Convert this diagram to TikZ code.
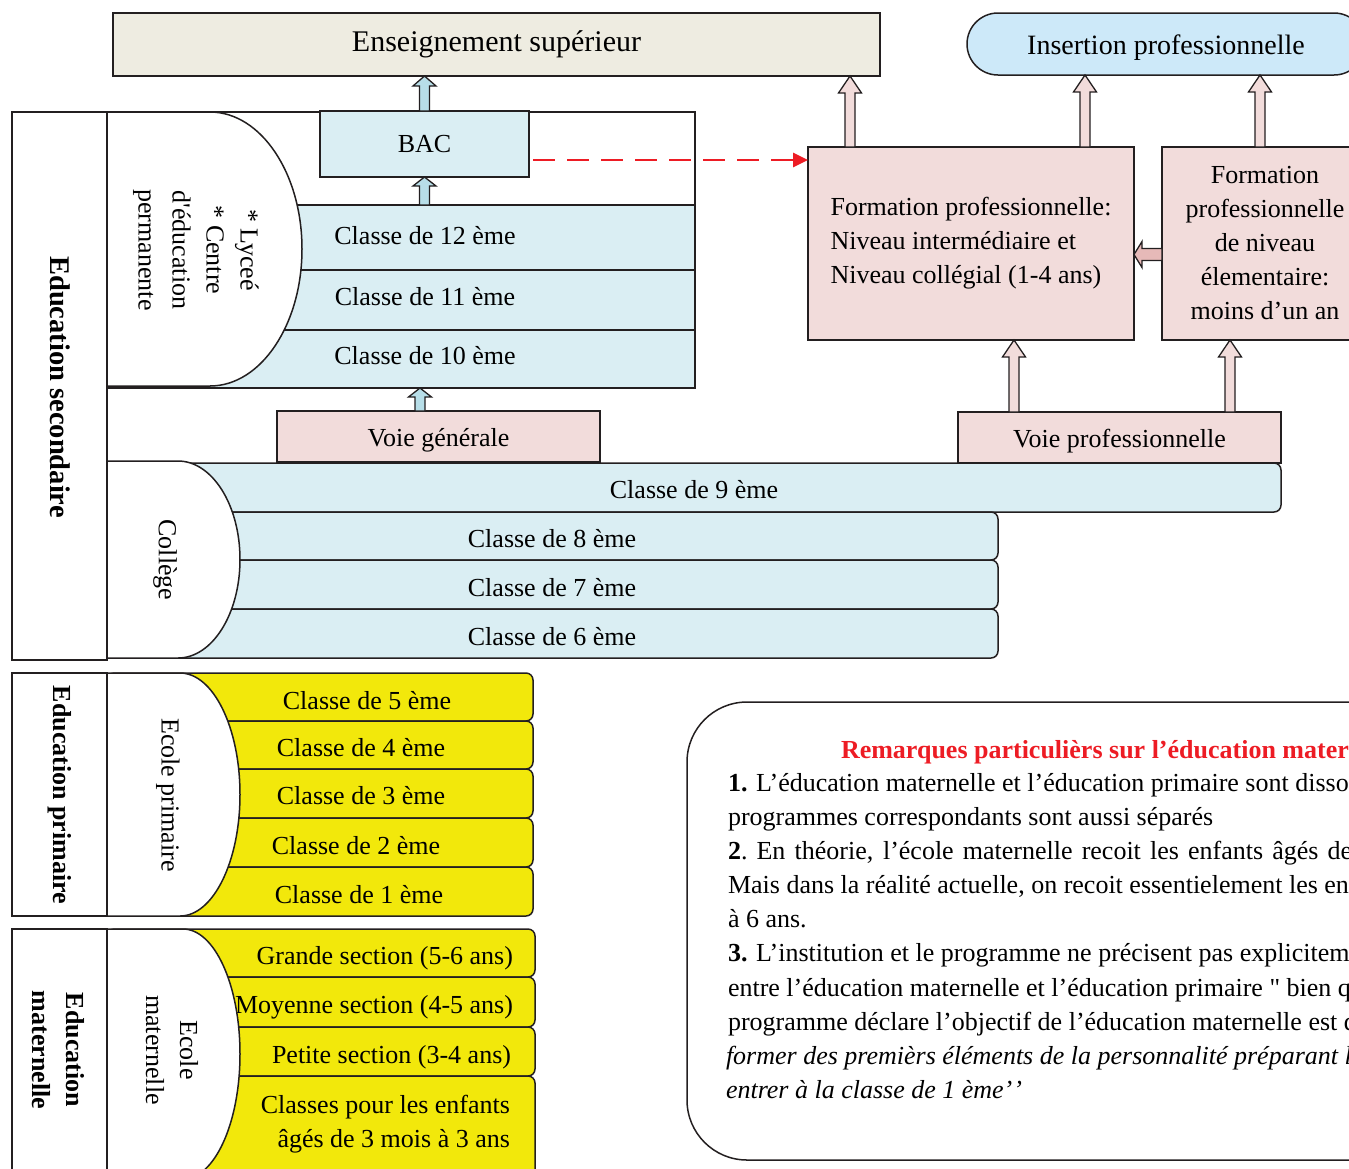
\documentclass[tikz,border=0pt]{standalone}
\usepackage{fontspec}
\setmainfont{Liberation Serif}
\usetikzlibrary{calc,arrows.meta}
\definecolor{edge}{HTML}{231F20}
\definecolor{beige}{HTML}{EEECE1}
\definecolor{lblue}{HTML}{DAEEF3}
\definecolor{insblue}{HTML}{CDE9F9}
\definecolor{pinkf}{HTML}{F2DCDB}
\definecolor{pinkdark}{HTML}{E6B9B8}
\definecolor{yel}{HTML}{F2E80B}
\definecolor{arrblue}{HTML}{B7DEE8}
\definecolor{redd}{HTML}{ED1C24}
% vertical block arrow: fill, head length, from (bottom), to (top, y only)
\newcommand{\blkv}[4]{\draw[blockarr,fill=#1] let \p1=(#3), \p2=(#4) in
  (\x1-5pt,\y1) -- (\x1-5pt,\y2-#2) -- (\x1-11.5pt,\y2-#2) -- (\x1,\y2)
  -- (\x1+11.5pt,\y2-#2) -- (\x1+5pt,\y2-#2) -- (\x1+5pt,\y1) -- cycle;}
\newcommand{\lowr}[2]{\raisebox{-#1}[\height][\depth]{#2}}
\begin{document}
\begin{tikzpicture}[x=1pt,y=-1pt,
  box/.style={draw=edge,line width=1.5pt,inner sep=0pt,outer sep=0pt,align=center,font=\fontsize{26}{34}\selectfont},
  rowb/.style={box,fill=lblue},
  rowy/.style={box,fill=yel,rounded corners=7pt},
  rowc/.style={box,fill=lblue,rounded corners=7pt},
  txt/.style={inner sep=0pt,outer sep=0pt,font=\fontsize{26}{34}\selectfont,align=center},
  btxt/.style={inner sep=0pt,outer sep=0pt,font=\fontsize{26}{34}\selectfont\bfseries,align=center},
  rtxt/.style={inner sep=0pt,outer sep=0pt,font=\fontsize{26}{34}\selectfont,anchor=base west},
  wshape/.style={draw=edge,line width=1.5pt,fill=white},
  blockarr/.style={draw=edge,line width=1.3pt,line join=miter},
]
\useasboundingbox (0,0) rectangle (1349,1168);
\clip (0,0) rectangle (1349,1168);

% top boxes
\node[box,fill=beige,minimum width=767,minimum height=63,font=\fontsize{30}{36}\selectfont] (ens) at (496.5,44.5) {Enseignement supérieur};
\node[box,fill=insblue,rounded corners=31pt,minimum width=398,minimum height=62,font=\fontsize{28}{34}\selectfont] (ins) at (1166,44) {\lowr{4pt}{Insertion professionnelle}};

% secondary: lycee
\node[box,fill=white,minimum width=588,minimum height=276] (lycf) at (401,250) {};
\node[rowb,minimum width=588,minimum height=65] (c12) at (401,237.5) {};
\node[rowb,minimum width=588,minimum height=60] (c11) at (401,300) {};
\node[rowb,minimum width=588,minimum height=58] (c10) at (401,359) {};
\node[txt] (t12) at (425,236) {Classe de 12 ème};
\node[txt] (t11) at (425,297) {Classe de 11 ème};
\node[txt] (t10) at (425,356) {Classe de 10 ème};
\draw[wshape] (107,112) -- (210,112) arc[start angle=90,end angle=-90,x radius=92pt,y radius=137pt] -- (107,386) -- cycle;
\node[txt,rotate=-90] (lyclab) at (196,250) {* Lyceé\\* Centre\\d\textquotesingle éducation\\permanente};

\node[box,fill=lblue,minimum width=209,minimum height=66] (bac) at (424.5,144) {BAC};
\node[box,fill=pinkf,minimum width=323,minimum height=51] (vg) at (438.5,436.5) {\lowr{3.5pt}{Voie générale}};
\node[box,fill=pinkf,minimum width=323,minimum height=51] (vp) at (1119.5,437.5) {\lowr{4pt}{Voie professionnelle}};
\node[box,fill=pinkf,minimum width=326,minimum height=193,align=left] (fp) at (971,243.5) {Formation professionnelle:\\Niveau intermédiaire et\\Niveau collégial (1-4 ans)};
\node[box,fill=pinkf,minimum width=206,minimum height=193] (fe) at (1265,243.5) {Formation\\professionnelle\\de niveau\\élementaire:\\moins d’un an};

% college
\node[rowc,minimum width=1174,minimum height=49] (c9) at (694,487.5) {};
\node[rowc,minimum width=891,minimum height=48] (c8) at (552.5,536) {};
\node[rowc,minimum width=891,minimum height=49] (c7) at (552.5,584.5) {};
\node[rowc,minimum width=891,minimum height=49] (c6) at (552.5,633.5) {};
\node[txt] (t9) at (694,490) {Classe de 9 ème};
\node[txt] (t8) at (552,539) {Classe de 8 ème};
\node[txt] (t7) at (552,588) {Classe de 7 ème};
\node[txt] (t6) at (552,637) {Classe de 6 ème};
\draw[wshape] (107,461) -- (178,461) arc[start angle=90,end angle=-90,x radius=62pt,y radius=98.5pt] -- (107,658) -- cycle;
\node[txt,rotate=-90] (col) at (165,560) {Collège};

\node[box,minimum width=95,minimum height=548] (es) at (59.5,386) {};
\node[btxt,rotate=-90,font=\fontsize{28.5}{34}\selectfont\bfseries] (est) at (60,387) {Education secondaire};

% primary
\node[rowy,minimum width=426,minimum height=48] (p5) at (320,697) {};
\node[rowy,minimum width=426,minimum height=48] (p4) at (320,745) {};
\node[rowy,minimum width=426,minimum height=49] (p3) at (320,793.5) {};
\node[rowy,minimum width=426,minimum height=49] (p2) at (320,842.5) {};
\node[rowy,minimum width=426,minimum height=49] (p1) at (320,891.5) {};
\node[txt] (tp5) at (367,701) {Classe de 5 ème};
\node[txt] (tp4) at (361,748) {Classe de 4 ème};
\node[txt] (tp3) at (361,796) {Classe de 3 ème};
\node[txt] (tp2) at (356,846) {Classe de 2 ème};
\node[txt] (tp1) at (359,895) {Classe de 1 ème};
\draw[wshape] (107,673) -- (180,673) arc[start angle=90,end angle=-90,x radius=60pt,y radius=121.5pt] -- (107,916) -- cycle;
\node[txt,rotate=-90] (ecp) at (168,795) {Ecole primaire};
\node[box,minimum width=95,minimum height=243] (ep) at (59.5,794.5) {};
\node[btxt,rotate=-90] (ept) at (60,795) {Education primaire};

% maternelle
\node[rowy,minimum width=428,minimum height=48] (m1) at (321,953) {};
\node[rowy,minimum width=428,minimum height=50] (m2) at (321,1002) {};
\node[rowy,minimum width=428,minimum height=49] (m3) at (321,1051.5) {};
\node[rowy,minimum width=428,minimum height=104] (m4) at (321,1128) {};
\node[txt,anchor=east] (tm1) at (513,958) {Grande section (5-6 ans)};
\node[txt,anchor=east] (tm2) at (513,1007) {Moyenne section (4-5 ans)};
\node[txt,anchor=east] (tm3) at (511,1057) {Petite section (3-4 ans)};
\node[txt,anchor=east,align=right] (tm4) at (510,1124.5) {Classes pour les enfants\\âgés de 3 mois à 3 ans};
\draw[wshape] (107,929) -- (183,929) arc[start angle=90,end angle=-90,x radius=57pt,y radius=125pt] -- (107,1179) -- cycle;
\node[txt,rotate=-90] (ecm) at (172,1050) {Ecole\\maternelle};
\node[box,minimum width=95,minimum height=246] (em) at (59.5,1052) {};
\node[btxt,rotate=-90] (emt) at (58,1050) {Education\\maternelle};

% arrows
\blkv{arrblue}{10pt}{bac.north}{ens.south}
\blkv{arrblue}{9pt}{bac.south |- c12.north}{bac.south}
\blkv{arrblue}{9pt}{$(vg.north west)+(143,0)$}{c10.south}
\blkv{pinkf}{17pt}{$(fp.north west)+(42,0)$}{ens.south}
\blkv{pinkf}{17pt}{$(fp.north west)+(277,0)$}{ins.south}
\blkv{pinkf}{17pt}{$(fe.north west)+(98,0)$}{ins.south}
\blkv{pinkf}{17pt}{$(vp.north west)+(56,0)$}{fp.south}
\blkv{pinkf}{17pt}{$(vp.north west)+(272,0)$}{fe.south}
\draw[blockarr,fill=pinkdark] let \p1=($(fe.west)+(0,11)$), \p2=(fp.east) in
  (\x1,\y1+6pt) -- (\x2+8pt,\y1+6pt) -- (\x2+8pt,\y1+13pt) -- (\x2,\y1)
  -- (\x2+8pt,\y1-13pt) -- (\x2+8pt,\y1-6pt) -- (\x1,\y1-6pt) -- cycle;
\draw[redd,line width=2.6pt,dash pattern=on 22pt off 12pt,-{Triangle[length=15pt,width=14pt]}]
  ($(bac.east)+(4,16)$) -- ($(fp.west|-bac.east)+(0,16)$);

% remarks
\node[box,rounded corners=60pt,minimum width=740,minimum height=458] (rem) at (1057,931) {};
\node[rtxt,text=redd,font=\fontsize{26}{34}\selectfont\bfseries] (r0) at (841,758) {Remarques particulièrs sur l’éducation matern};
\node[rtxt] (r1) at (728,791) {\textbf{1.} L’éducation maternelle et l’éducation primaire sont dissoc};
\node[rtxt] (r2) at (728,825) {programmes correspondants sont aussi séparés};
\node[rtxt] (r3) at (728,859) {\makebox[624pt][s]{\textbf{2}.\ En théorie, l’école maternelle recoit les enfants âgés de}};
\node[rtxt] (r4) at (728,893) {Mais dans la réalité actuelle, on recoit essentielement les en};
\node[rtxt] (r5) at (728,927) {à 6 ans.};
\node[rtxt] (r6) at (728,961) {\textbf{3.} L’institution et le programme ne précisent pas explicitem};
\node[rtxt] (r7) at (728,996) {entre l’éducation maternelle et l’éducation primaire \textquotedbl{} bien q};
\node[rtxt] (r8) at (728,1030) {programme déclare l’objectif de l’éducation maternelle est q};
\node[rtxt,font=\fontsize{26}{34}\selectfont\itshape] (r9) at (726,1064) {former des premièrs éléments de la personnalité préparant l};
\node[rtxt,font=\fontsize{26}{34}\selectfont\itshape] (r10) at (726,1098) {entrer à la classe de 1 ème’\kern1pt’};
\end{tikzpicture}
\end{document}
